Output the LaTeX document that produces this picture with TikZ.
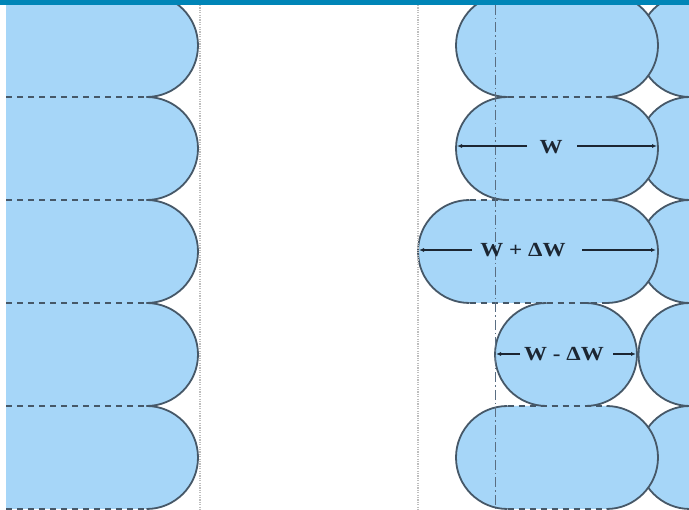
\documentclass[tikz,border=0pt]{standalone}
\usepackage{fontspec}
\setmainfont{Liberation Serif}
\usetikzlibrary{arrows.meta}
\definecolor{cellfill}{RGB}{166,214,248}
\definecolor{cellline}{RGB}{70,88,104}
\definecolor{topbar}{RGB}{0,133,183}
\definecolor{guidegrey}{RGB}{190,190,190}
\definecolor{axisline}{RGB}{90,110,130}
\definecolor{labtext}{RGB}{28,38,50}
\tikzset{
  cell/.style={fill=cellfill},
  cellarc/.style={draw=cellline, line width=1.8pt},
  celldash/.style={draw=cellline, line width=1.8pt, dash pattern=on 6pt off 5pt},
  guide/.style={draw=guidegrey, line width=1.8pt, dash pattern=on 1.2pt off 1.2pt},
  axisdd/.style={draw=axisline, line width=0.9pt, dash pattern=on 10pt off 3pt on 1.5pt off 3pt},
  dim/.style={draw=labtext, line width=1.3pt, -{Latex[length=5pt,width=4pt]}},
  lab/.style={font=\bfseries\fontsize{20}{20}\selectfont, text=labtext, xscale=1.15, inner sep=0pt}
}
% stadium: #1 left x, #2 right x, #3 top y (height 103, radius 51.5)
\newcommand{\stadfill}[3]{\fill[cell] (#1+51.5,#3) -- (#2-51.5,#3) arc[start angle=-90,end angle=90,radius=51.5] -- (#1+51.5,#3+103) arc[start angle=90,end angle=270,radius=51.5] -- cycle;}
\newcommand{\stadarcs}[3]{\draw[cellarc] (#2-51.5,#3) arc[start angle=-90,end angle=90,radius=51.5]; \draw[cellarc] (#1+51.5,#3+103) arc[start angle=90,end angle=270,radius=51.5];}
\begin{document}
\begin{tikzpicture}[x=1pt,y=-1pt]
\useasboundingbox (0,0) rectangle (689,510);
\fill[white] (0,0) rectangle (689,510);
\begin{scope}
\clip (6,0) rectangle (689,510);
% left panel
\foreach \t in {-109,-6,97,200,303,406} {\stadfill{-200}{198}{\t}}
\foreach \t in {-109,-6,97,200,303,406} {\stadarcs{-200}{198}{\t}}
\foreach \y in {97,200,303,406,509} {\draw[celldash] (6,\y) -- (147,\y);}
% right column (beneath)
\foreach \t in {-109,-6,97,200,303,406} {\stadfill{638.5}{900}{\t}}
\foreach \t in {-109,-6,97,200,303,406} {\stadarcs{638.5}{900}{\t}}
% right panel
\stadfill{456}{658}{-6}
\stadfill{456}{658}{97}
\stadfill{418}{658}{200}
\stadfill{495}{637}{303}
\stadfill{456}{658}{406}
\stadarcs{456}{658}{-6}
\stadarcs{456}{658}{97}
\stadarcs{418}{658}{200}
\stadarcs{495}{637}{303}
\stadarcs{456}{658}{406}
\draw[celldash] (507.5,97) -- (606.5,97);
\draw[celldash] (469.5,200) -- (606.5,200);
\draw[celldash] (469.5,303) -- (606.5,303);
\draw[celldash] (507.5,406) -- (606.5,406);
\draw[celldash] (507.5,509) -- (606.5,509);
\end{scope}
% guides
\draw[guide] (200,5) -- (200,510);
\draw[guide] (418,5) -- (418,510);
\draw[axisdd] (495,5) -- (495,510);
% labels and dimension arrows
\node[lab] (lw) at (551,147) {W};
\node[lab] (lwp) at (523,250) {W + ΔW};
\node[lab] (lwm) at (564,354) {W - ΔW};
\coordinate (w2lo) at (457,146); \coordinate (w2li) at (527,146);
\coordinate (w2ri) at (577,146); \coordinate (w2ro) at (657,146);
\coordinate (w3lo) at (419,250); \coordinate (w3li) at (472,250);
\coordinate (w3ri) at (582,250); \coordinate (w3ro) at (656,250);
\coordinate (w4lo) at (496,354); \coordinate (w4li) at (520,354);
\coordinate (w4ri) at (613,354); \coordinate (w4ro) at (636,354);
\draw[dim] (w2li) -- (w2lo);
\draw[dim] (w2ri) -- (w2ro);
\draw[dim] (w3li) -- (w3lo);
\draw[dim] (w3ri) -- (w3ro);
\draw[dim] (w4li) -- (w4lo);
\draw[dim] (w4ri) -- (w4ro);
% top bar
\fill[topbar] (0,0) rectangle (689,5);
\end{tikzpicture}
\end{document}
